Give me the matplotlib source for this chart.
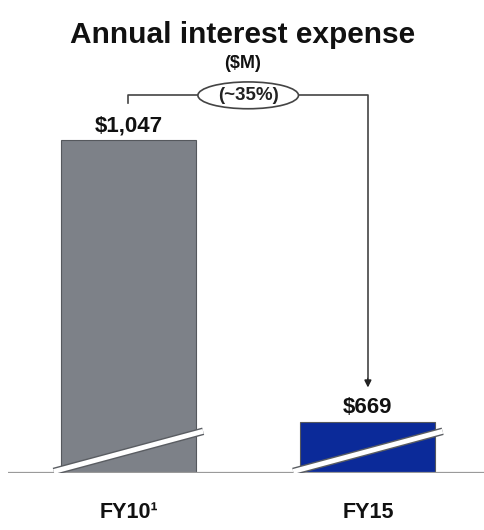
import matplotlib
matplotlib.use('Agg')
import matplotlib.pyplot as plt
import matplotlib.patheffects as pe
from matplotlib.patches import Ellipse

plt.rcParams['font.family'] = ['Liberation Sans', 'DejaVu Sans']

# Data
categories = ['FY10¹', 'FY15']
values = [1047, 669]
value_labels = ['$1,047', '$669']
change_label = '(~35%)'
colors = ['#7d8188', '#0b2a99']

fig = plt.figure(figsize=(4.85, 5.3), dpi=100)
ax = fig.add_axes([8 / 485, 57 / 530, 477 / 485, 473 / 530])

x = [0, 1]
width = 0.564
ax.bar(x, values, width=width, color=colors, edgecolor='#55585d', linewidth=0.8, zorder=2)
ax.set_xlim(-0.503, 1.489)
ymin, ymax = 600, 1235
ax.set_ylim(ymin, ymax)

# baseline
ax.axhline(ymin + 0.5, color='#9a9a9a', linewidth=1.6, zorder=3)

# axis break slashes on each bar
for xi in x:
    xs = [xi - width / 2 - 0.03, xi + width / 2 + 0.03]
    ys = [ymin + 2, ymin + 56]
    ax.plot(xs, ys, color='white', linewidth=3.5, solid_capstyle='butt', zorder=4,
            path_effects=[pe.Stroke(linewidth=5.5, foreground='#5a5d62'), pe.Normal()])

# value labels
for xi, v, lab in zip(x, values, value_labels):
    ax.text(xi, v + 12, lab, ha='center', va='baseline',
            fontsize=16, fontweight='bold', color='#111111', zorder=5)

# bracket with arrow
top = values[0] + 60
ax.plot([x[0], x[0], x[1], x[1]], [values[0] + 50, top, top, values[1] + 60],
        color='#444444', linewidth=1.2, zorder=5)
ax.annotate('', xy=(x[1], values[1] + 42), xytext=(x[1], values[1] + 62),
            arrowprops=dict(arrowstyle='-|>', color='#222222', lw=1.2, mutation_scale=10),
            zorder=6)
xm = 0.5 * (x[0] + x[1])
ax.add_patch(Ellipse((xm, top), 0.42, 36, facecolor='white', edgecolor='#444444',
                     linewidth=1.2, zorder=6))
ax.text(xm, top, change_label, ha='center', va='center', fontsize=13.5,
        fontweight='bold', color='#222222', zorder=7)

ax.axis('off')

fig.text(0.5, 1 - 35 / 530, 'Annual interest expense', ha='center', va='center',
         fontsize=21.5, fontweight='bold', color='#111111')
fig.text(0.5, 1 - 64 / 530, '($M)', ha='center', va='center',
         fontsize=13, fontweight='bold', color='#111111')

for xi, cat in zip(x, categories):
    fig.text(ax.transData.transform((xi, 0))[0] / fig.dpi / 4.85, 1 - 512 / 530, cat,
             ha='center', va='center', fontsize=15.5, fontweight='bold', color='#111111')

fig.savefig('out.png', dpi=100)
